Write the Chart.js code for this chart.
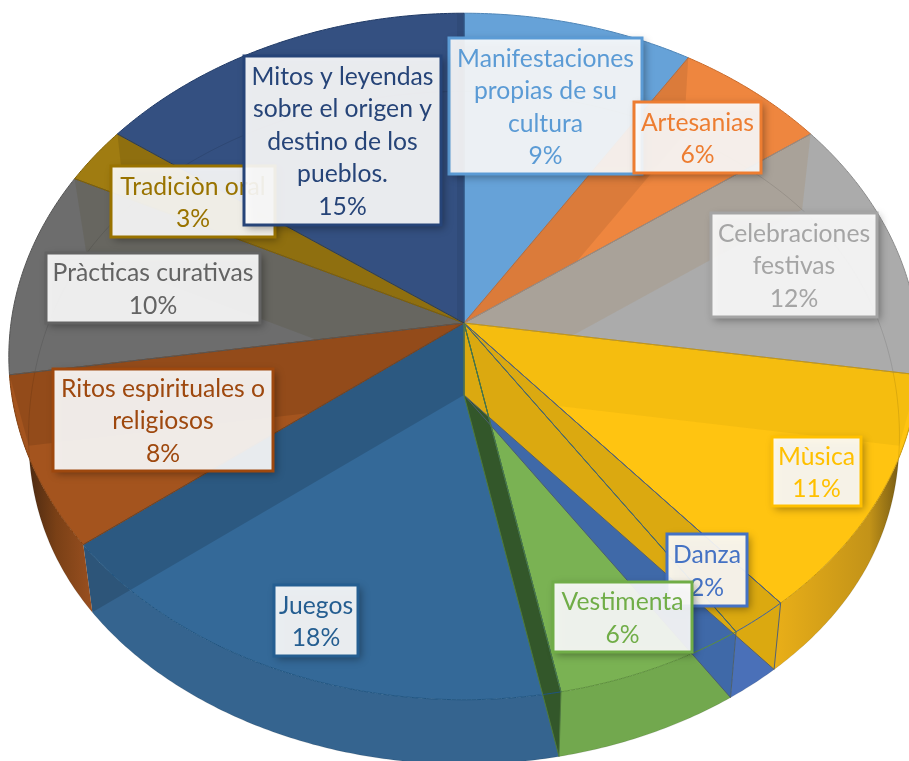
<!DOCTYPE html>
<html lang="es">
<head>
  <meta charset="UTF-8" />
  <title>Manifestaciones culturales</title>
  <script src="https://cdn.jsdelivr.net/npm/chart.js"></script>
  <style>
    html, body { margin: 0; padding: 0; background: #fff; overflow: hidden; }
    canvas { display: block; }
  </style>
</head>
<body>
<canvas id="chart" width="909" height="761"></canvas>

<script>
const categories = [
  ['Manifestaciones', 'propias de su', 'cultura'],
  ['Artesanias'],
  ['Celebraciones', 'festivas'],
  ['Mùsica'],
  ['Danza'],
  ['Vestimenta'],
  ['Juegos'],
  ['Ritos espirituales o', 'religiosos'],
  ['Pràcticas curativas'],
  ['Tradiciòn oral'],
  ['Mitos y leyendas', 'sobre el origen y', 'destino de los', 'pueblos.']
];
const seriesValues = [9.0, 6.0, 12.4, 11.4, 1.9, 6.2, 17.6, 8.1, 9.7, 2.7, 15.0];

// office palette, slices are slightly see-through
const solidColors = ['#5b9bd5', '#ed7d31', '#a5a5a5', '#ffc000', '#4472c4', '#70ad47',
                     '#255e91', '#9e480e', '#636363', '#997300', '#264478'];
const sliceColors = solidColors.map(c => c + 'ee');

// label boxes: left, top, right, bottom
const labelBoxes = [
  [449, 38, 642, 174], [634, 102, 761, 173], [711, 213, 877, 317], [772, 437, 861, 506],
  [667, 534, 747, 606], [553, 582, 692, 652], [274, 585, 358, 656], [53, 369, 273, 471],
  [46, 253, 260, 323], [111, 166, 275, 237], [244, 56, 441, 225]
];

// how the flat pie is projected
const view = { cx: 464, topY: 323, bottomY: 395, a: 453, b: 340, k: 0.0975, shrink: 0.98 };

function rim(angle, bottom) {
  const t = angle + Math.PI / 2;
  const u = Math.sin(t), v = -Math.cos(t);
  const d = 1 - view.k * v;
  // lower face pulls in a little more at its widest part
  const s = bottom ? view.shrink * (1 - 0.025 * Math.pow(u, 8)) : 1;
  return {
    x: view.cx + s * view.a * u / d,
    y: (bottom ? view.bottomY : view.topY) + (bottom ? view.shrink : 1) * view.b * v / d
  };
}

function tracePts(ctx, pts) {
  ctx.beginPath();
  pts.forEach((p, i) => i ? ctx.lineTo(p.x, p.y) : ctx.moveTo(p.x, p.y));
  ctx.closePath();
}

function arcPts(a0, a1, bottom) {
  const pts = [];
  const steps = Math.max(2, Math.ceil((a1 - a0) / 0.01));
  for (let i = 0; i <= steps; i++) pts.push(rim(a0 + (a1 - a0) * i / steps, bottom));
  return pts;
}

const apex = () => ({ x: view.cx, y: view.topY });
const apexLow = () => ({ x: view.cx, y: view.bottomY });

function wallPts(angle) {
  return [apex(), rim(angle, false), rim(angle, true), apexLow()];
}

const pie3d = {
  id: 'pie3d',
  beforeDatasetsDraw(chart) {
    const ctx = chart.ctx;
    const arcs = chart.getDatasetMeta(0).data;
    const topFace = i => [apex(), ...arcPts(arcs[i].startAngle, arcs[i].endAngle, false)];
    const fillIn = (pts, color) => { tracePts(ctx, pts); ctx.fillStyle = color; ctx.fill(); };
    const clipped = (i, pts, color) => {
      ctx.save();
      tracePts(ctx, topFace(i));
      ctx.clip();
      fillIn(pts, color);
      ctx.restore();
    };
    ctx.save();

    // outer side of the drum
    const musWall = ctx.createLinearGradient(777, 0, 909, 0);
    musWall.addColorStop(0, '#e8ae18');
    musWall.addColorStop(0.7, '#c39318');
    musWall.addColorStop(1, '#5f4a12');
    const ritosWall = ctx.createLinearGradient(93, 0, 20, 0);
    ritosWall.addColorStop(0, '#9a5020');
    ritosWall.addColorStop(0.5, '#7a4016');
    ritosWall.addColorStop(1, '#3f2410');
    const wallFills = { 3: musWall, 4: '#4a70b8', 5: '#72a84e', 6: '#35648f', 7: ritosWall };
    arcs.forEach((arc, i) => {
      if (!wallFills[i]) return;
      const pts = arcPts(arc.startAngle, arc.endAngle, false)
        .concat(arcPts(arc.startAngle, arc.endAngle, true).reverse());
      fillIn(pts, wallFills[i]);
    });

    // top faces
    arcs.forEach((arc, i) => {
      const pts = topFace(i);
      ctx.fillStyle = '#fff';
      tracePts(ctx, pts);
      ctx.fill();
      fillIn(pts, arc.options.backgroundColor);
    });

    // back walls seen through the slice under them
    clipped(1, wallPts(arcs[0].endAngle), 'rgba(0,0,0,0.08)');
    clipped(2, wallPts(arcs[1].endAngle), 'rgba(160,110,50,0.14)');
    clipped(3, wallPts(arcs[2].endAngle), 'rgba(120,100,0,0.07)');
    clipped(7, wallPts(arcs[7].endAngle), 'rgba(0,0,0,0.10)');
    clipped(8, wallPts(arcs[8].endAngle), 'rgba(88,85,60,0.25)');
    clipped(9, wallPts(arcs[9].endAngle), 'rgba(0,0,0,0.10)');
    // narrow dark strip where the first and last slices meet
    clipped(10, [{ x: 457, y: 0 }, { x: 464, y: 0 }, { x: 464, y: 330 }, { x: 457, y: 330 }], 'rgba(0,0,0,0.06)');

    // rim of the lower face, it shows faintly through the back slices
    ctx.beginPath();
    arcPts(-Math.PI / 2, Math.PI * 1.5, true).forEach((p, i) => i ? ctx.lineTo(p.x, p.y) : ctx.moveTo(p.x, p.y));
    ctx.strokeStyle = 'rgba(0,0,0,0.10)';
    ctx.lineWidth = 1;
    ctx.stroke();

    // walls on the near side
    fillIn(wallPts(arcs[6].endAngle), 'rgba(0,0,0,0.15)');
    fillIn(wallPts(arcs[4].endAngle), '#3f69a8');
    fillIn(wallPts(arcs[5].endAngle), '#33572a');
    fillIn(wallPts(arcs[3].endAngle), '#dba910');

    // thin edges
    const edgeColors = ['#4f86b8', '#c96a2a', '#8c8c8c', '#c9980a', '#3c63a8', '#5c8f3b',
                        '#1f5480', '#84400f', '#555555', '#805f00', '#203a66'];
    arcs.forEach((arc, i) => {
      tracePts(ctx, topFace(i));
      ctx.strokeStyle = edgeColors[i];
      ctx.lineWidth = 1;
      ctx.stroke();
    });
    [[3, '#56616b'], [4, '#4b5e70'], [5, '#4f7a3a']].forEach(([i, c]) => {
      tracePts(ctx, wallPts(arcs[i].endAngle));
      ctx.strokeStyle = c;
      ctx.lineWidth = 1;
      ctx.stroke();
    });
    ctx.restore();
    return false;
  },
  afterDraw(chart) {
    const ctx = chart.ctx;
    const total = seriesValues.reduce((a, b) => a + b, 0);
    const lineH = 32.5;
    categories.forEach((lines, i) => {
      const [l, t, r, b] = labelBoxes[i];
      ctx.save();
      ctx.shadowColor = 'rgba(0,0,0,0.4)';
      ctx.shadowBlur = 8;
      ctx.shadowOffsetX = 3;
      ctx.shadowOffsetY = 3;
      ctx.fillStyle = 'rgba(255,255,255,0.9)';
      ctx.fillRect(l, t, r - l, b - t);
      ctx.restore();
      ctx.strokeStyle = solidColors[i];
      ctx.lineWidth = 3;
      ctx.strokeRect(l, t, r - l, b - t);

      const all = lines.concat(Math.round(seriesValues[i] / total * 100) + '%');
      ctx.fillStyle = solidColors[i];
      ctx.font = '24.7px Lato, "Noto Sans", sans-serif';
      ctx.textAlign = 'center';
      ctx.textBaseline = 'middle';
      const midX = (l + r) / 2, midY = (t + b) / 2 + 1.5;
      all.forEach((txt, n) => {
        ctx.fillText(txt, midX, midY + (n - (all.length - 1) / 2) * lineH);
      });
    });
  }
};

new Chart(document.getElementById('chart').getContext('2d'), {
  type: 'pie',
  data: {
    labels: categories.map(c => c.join(' ')),
    datasets: [{ data: seriesValues, backgroundColor: sliceColors, borderWidth: 0 }]
  },
  options: {
    responsive: false,
    animation: false,
    plugins: { legend: { display: false }, tooltip: { enabled: false } }
  },
  plugins: [pie3d]
});
</script>
</body>
</html>
